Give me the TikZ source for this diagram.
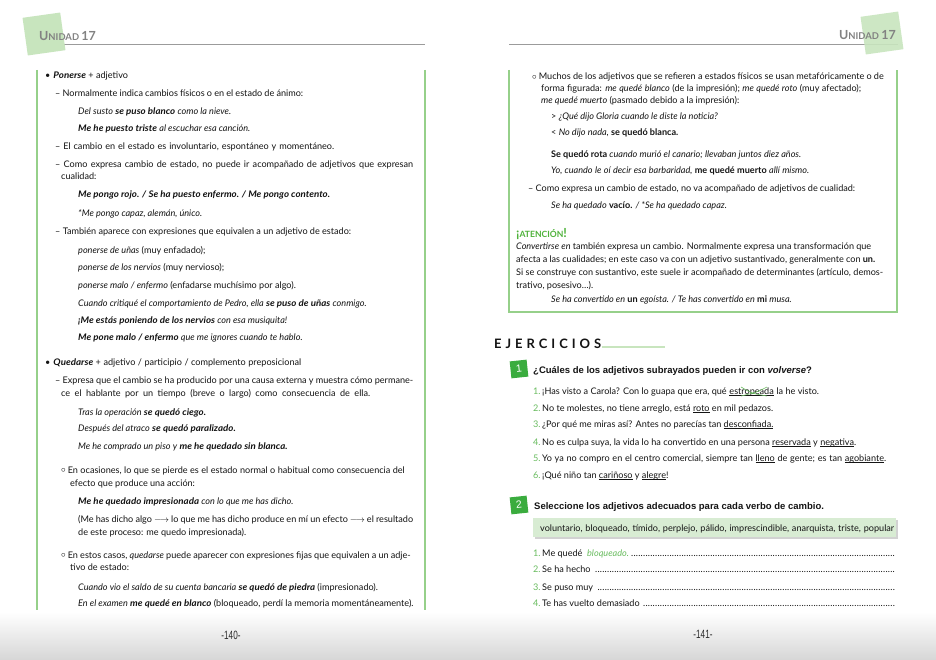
\documentclass[tikz,border=0pt]{standalone}
\usepackage{fontspec}
\setmainfont{Lato}
\newfontfamily\arialf{Liberation Sans}
\usetikzlibrary{shadows,calc}
\definecolor{boxgreen}{RGB}{150,208,138}
\definecolor{hdrgreen}{RGB}{200,229,190}
\definecolor{numgreen}{RGB}{105,188,95}
\definecolor{sqgreen}{RGB}{58,172,62}
\definecolor{wordgreen}{RGB}{216,236,211}
\definecolor{attgreen}{RGB}{78,178,58}
\definecolor{hdrgray}{RGB}{130,130,130}
\definecolor{txtc}{RGB}{20,20,20}
\newcommand{\bdy}{\fontsize{9.1}{11}\selectfont}
\newcommand{\bi}[1]{\scalebox{1.07}[1]{\bfseries\itshape #1}}
\newcommand{\jl}[2]{{\spaceskip=0.26em plus 3em minus 0.12em\makebox[#1][s]{#2}}}
\newcommand{\arr}{$\longrightarrow$}
\newcommand{\wc}{\raisebox{0.1ex}{$\circ$}}
\newcommand{\dts}{\leaders\hbox to 2.4pt{\hss.\hss}\hfill}
\newsavebox{\ulbox}
\newcommand{\ul}[1]{\sbox{\ulbox}{#1}\rlap{\rule[-1.7pt]{\wd\ulbox}{0.5pt}}\usebox{\ulbox}}
\newcommand{\unid}{\textcolor{hdrgray}{\bfseries\fontsize{12.5}{13}\selectfont U\fontsize{9.4}{10}\selectfont NIDAD\ \fontsize{12.5}{13}\selectfont 17}}
\begin{document}
\begin{tikzpicture}[x=1pt,y=-1pt,
  t/.style={anchor=base west,inner sep=0pt,font=\bdy,text=txtc},
  hdrsq/.style={fill=hdrgreen,minimum size=38pt,inner sep=0pt},
  hdrline/.style={draw=hdrgray!80,line width=0.9pt},
  boxline/.style={draw=boxgreen,line width=1.1pt},
  numsq/.style={fill=sqgreen,minimum size=17pt,inner sep=0pt,text=white,font=\arialf\fontsize{10.5}{10}\selectfont},
  extitle/.style={anchor=base west,inner sep=0pt,text=txtc,font=\arialf\bfseries\fontsize{9.5}{10}\selectfont},
  num/.style={anchor=base west,inner sep=0pt,font=\bdy,text=numgreen},
  pnum/.style={inner sep=0pt,text=txtc!90,font=\arialf\fontsize{12}{12}\selectfont}]
\useasboundingbox (0,0) rectangle (936,660);
\fill[white] (0,0) rectangle (936,660);
\shade[top color=white,bottom color=black!16] (0,612) rectangle (936,660);

% headers
\draw[hdrline] (50,44.5) -- (425,44.5);
\draw[hdrline] (509,44.5) -- (898,44.5);
\node[hdrsq,rotate=8] (sqL) at (44,34) {};
\node[hdrsq,rotate=8,opacity=0.9] (sqR) at (882,33) {};
\node[anchor=base west,inner sep=0pt] (hL) at (39,41) {\unid};
\node[anchor=base east,inner sep=0pt] (hR) at (896,40) {\unid};

% left box
\coordinate (lbt) at (37,70); \coordinate (lbb) at (37,610);
\coordinate (rbt) at (425,70); \coordinate (rbb) at (425,610);
\draw[boxline] (lbt) -- (lbb);
\draw[boxline] (rbt) -- (rbb);

\node[t] (L1) at (45,79) {•\hspace{3pt}\bi{Ponerse} + adjetivo};
\node[t] (L2) at (55,97) {\jl{248pt}{– Normalmente indica cambios físicos o en el estado de ánimo:}};
\node[t] (L3) at (78,115) {\textit{Del susto} \bi{se puso blanco} \textit{como la nieve.}};
\node[t] (L4) at (78,132) {\bi{Me he puesto triste} \textit{al escuchar esa canción.}};
\node[t] (L5) at (55,150) {\jl{279pt}{– El cambio en el estado es involuntario, espontáneo y momentáneo.}};
\node[t] (L6) at (55,168) {\jl{358pt}{– Como expresa cambio de estado, no puede ir acompañado de adjetivos que expresan}};
\node[t] (L7) at (61,180) {cualidad:};
\node[t] (L8) at (78,198) {\bi{Me pongo rojo. / Se ha puesto enfermo. / Me pongo contento.}};
\node[t] (L9) at (78,217) {\textit{*Me pongo capaz, alemán, único.}};
\node[t] (L10) at (55,235) {\jl{296pt}{– También aparece con expresiones que equivalen a un adjetivo de estado:}};
\node[t] (L11) at (78,254) {\textit{ponerse de uñas} (muy enfadado);};
\node[t] (L12) at (78,270) {\textit{ponerse de los nervios} (muy nervioso);};
\node[t] (L13) at (78,288) {\textit{ponerse malo / enfermo} (enfadarse muchísimo por algo).};
\node[t] (L14) at (78,306) {\textit{Cuando critiqué el comportamiento de Pedro, ella} \bi{se puso de uñas} \textit{conmigo.}};
\node[t] (L15) at (78,323) {\bi{¡Me estás poniendo de los nervios} \textit{con esa musiquita!}};
\node[t] (L16) at (78,340) {\bi{Me pone malo / enfermo} \textit{que me ignores cuando te hablo.}};
\node[t] (L17) at (45,365) {\jl{256pt}{•\hspace{3pt}\bi{Quedarse} + adjetivo / participio / complemento preposicional}};
\node[t] (L18) at (55,383) {\jl{358pt}{– Expresa que el cambio se ha producido por una causa externa y muestra cómo permane-}};
\node[t] (L19) at (61,396) {\jl{309pt}{ce el hablante por un tiempo (breve o largo) como consecuencia de ella.}};
\node[t] (L20) at (78,415) {\textit{Tras la operación} \bi{se quedó ciego.}};
\node[t] (L21) at (78,431) {\textit{Después del atraco} \bi{se quedó paralizado.}};
\node[t] (L22) at (78,449) {\textit{Me he comprado un piso y} \bi{me he quedado sin blanca.}};
\node[t] (L23) at (61,473) {\wc\hspace{2pt}\jl{337pt}{En ocasiones, lo que se pierde es el estado normal o habitual como consecuencia del}};
\node[t] (L24) at (70,486) {efecto que produce una acción:};
\node[t] (L25) at (78,504) {\bi{Me he quedado impresionada} \textit{con lo que me has dicho.}};
\node[t] (L26) at (78,522) {\jl{335pt}{(Me has dicho algo \arr\ lo que me has dicho produce en mí un efecto \arr\ el resultado}};
\node[t] (L27) at (78,535) {de este proceso: me quedo impresionada).};
\node[t] (L28) at (61,558) {\wc\hspace{2pt}\jl{343pt}{En estos casos, \textit{quedarse} puede aparecer con expresiones fijas que equivalen a un adje-}};
\node[t] (L29) at (70,570) {tivo de estado:};
\node[t] (L30) at (78,590) {\textit{Cuando vio el saldo de su cuenta bancaria} \bi{se quedó de piedra} (impresionado).};
\node[t] (L31) at (78,606) {\textit{En el examen} \bi{me quedé en blanco} (bloqueado, perdí la memoria momentáneamente).};
\node[pnum] (P140) at (231,635) {\scalebox{0.68}[1]{-140-}};

% right box
\coordinate (a1) at (509,70); \coordinate (a2) at (509,312);
\coordinate (a3) at (897,312); \coordinate (a4) at (897,70);
\draw[boxline] (a1) -- (a2) -- (a3) -- (a4);

\node[t] (R1) at (532,80) {\wc\hspace{2pt}\jl{345pt}{Muchos de los adjetivos que se refieren a estados físicos se usan metafóricamente o de}};
\node[t] (R2) at (541,92) {\jl{320pt}{forma figurada: \textit{me quedé blanco} (de la impresión); \textit{me quedé roto} (muy afectado);}};
\node[t] (R3) at (541,104) {\textit{me quedé muerto} (pasmado debido a la impresión):};
\node[t] (R4) at (551,120) {> \textit{¿Qué dijo Gloria cuando le diste la noticia?}};
\node[t] (R5) at (551,136) {< \textit{No dijo nada,} \textbf{se quedó blanca.}};
\node[t] (R6) at (551,158) {\jl{250pt}{\textbf{Se quedó rota} \textit{cuando murió el canario; llevaban juntos diez años.}}};
\node[t] (R7) at (551,174) {\jl{258pt}{\textit{Yo, cuando le oí decir esa barbaridad,} \textbf{me quedé muerto} \textit{allí mismo.}}};
\node[t] (R8) at (528,192) {\jl{327pt}{– Como expresa un cambio de estado, no va acompañado de adjetivos de cualidad:}};
\node[t] (R9) at (551,209) {\textit{Se ha quedado} \textbf{vacío.} \textit{/ *Se ha quedado capaz.}};
\node[t,text=attgreen] (R10) at (516,237) {\bfseries\fontsize{12.5}{12}\selectfont ¡\fontsize{8.6}{9}\selectfont ATENCIÓN\fontsize{12.5}{12}\selectfont !};
\node[t] (R11) at (516,249) {\jl{355pt}{\textit{Convertirse en} también expresa un cambio. Normalmente expresa una transformación que}};
\node[t] (R12) at (516,262) {\jl{359pt}{afecta a las cualidades; en este caso va con un adjetivo sustantivado, generalmente con \textbf{un.}}};
\node[t] (R13) at (516,275) {\jl{367pt}{Si se construye con sustantivo, este suele ir acompañado de determinantes (artículo, demos-}};
\node[t] (R14) at (516,288) {trativo, posesivo…).};
\node[t] (R15) at (551,302) {\textit{Se ha convertido en} \textbf{un} \textit{egoísta. / Te has convertido en} \textbf{mi} \textit{musa.}};

% exercises
\draw[hdrgreen,line width=2pt] (602,347) -- (665,347);
\node[anchor=base west,inner sep=0pt,text=txtc,font=\bfseries\fontsize{13}{13}\selectfont] (EJ) at (494,348) {\makebox[107pt][s]{E\hfill J\hfill E\hfill R\hfill C\hfill I\hfill C\hfill I\hfill O\hfill S}};

\node[numsq,rotate=6] (S1) at (519,369) {1};
\node[extitle] (T1) at (533,373) {¿Cuáles de los adjetivos subrayados pueden ir con \textit{volverse}?};
\node[num] (N11) at (533,394) {1.};
\node[t] (I11a) at (542,394) {¡Has visto a Carola? Con lo guapa que era, qué};
\node[t] (I11b) at (I11a.base east) {\ \ul{estropeada}};
\node[t] (I11c) at (I11b.base east) {\ la he visto.};
\node[num] (N12) at (533,411) {2.};
\node[t] (I12) at (542,411) {No te molestes, no tiene arreglo, está \ul{roto} en mil pedazos.};
\node[num] (N13) at (533,427) {3.};
\node[t] (I13) at (542,427) {¿Por qué me miras así? Antes no parecías tan \ul{desconfiada.}};
\node[num] (N14) at (533,445) {4.};
\node[t] (I14) at (542,445) {\jl{314pt}{No es culpa suya, la vida lo ha convertido en una persona \ul{reservada} y \ul{negativa}.}};
\node[num] (N15) at (533,461) {5.};
\node[t] (I15) at (542,461) {\jl{344pt}{Yo ya no compro en el centro comercial, siempre tan \ul{lleno} de gente; es tan \ul{agobiante}.}};
\node[num] (N16) at (533,478) {6.};
\node[t] (I16) at (542,478) {¡Qué niño tan \ul{cariñoso} y \ul{alegre}!};
\coordinate (x1) at ($(I11b.base west)!0.3!(I11b.base east)+(0,-7)$);
\coordinate (x2) at ($(I11b.base west)!0.85!(I11b.base east)+(0,2)$);
\coordinate (x3) at ($(I11b.base west)!0.3!(I11b.base east)+(0,2)$);
\coordinate (x4) at ($(I11b.base west)!0.85!(I11b.base east)+(0,-7)$);
\draw[numgreen,line width=0.6pt] (x1) .. controls ($(x1)!0.5!(x2)+(-2,2)$) .. (x2);
\draw[numgreen,line width=0.6pt] (x3) .. controls ($(x3)!0.5!(x4)+(2,1)$) .. (x4);

\node[numsq,rotate=6] (S2) at (519,505) {2};
\node[extitle] (T2) at (534,509) {Seleccione los adjetivos adecuados para cada verbo de cambio.};
\node[fill=wordgreen,minimum width=363pt,minimum height=19pt,inner sep=0pt,anchor=north west,
  drop shadow={shadow xshift=2pt,shadow yshift=-2pt,opacity=0.35}] (WB) at (533,518) {};
\node[t] (WT) at (540,531) {\jl{354pt}{voluntario, bloqueado, tímido, perplejo, pálido, imprescindible, anarquista, triste, popular}};
\node[num] (N21) at (533,556) {1.};
\node[t] (I21) at (542,556) {\hbox to 354pt{Me quedé\ \ \textcolor{numgreen}{\textit{bloqueado.}}\dts}};
\node[num] (N22) at (533,572) {2.};
\node[t] (I22) at (542,572) {\hbox to 354pt{Se ha hecho \dts}};
\node[num] (N23) at (533,590) {3.};
\node[t] (I23) at (542,590) {\hbox to 354pt{Se puso muy \dts}};
\node[num] (N24) at (533,606) {4.};
\node[t] (I24) at (542,606) {\hbox to 354pt{Te has vuelto demasiado \dts}};
\node[pnum] (P141) at (703,634) {\scalebox{0.68}[1]{-141-}};
\end{tikzpicture}
\end{document}
